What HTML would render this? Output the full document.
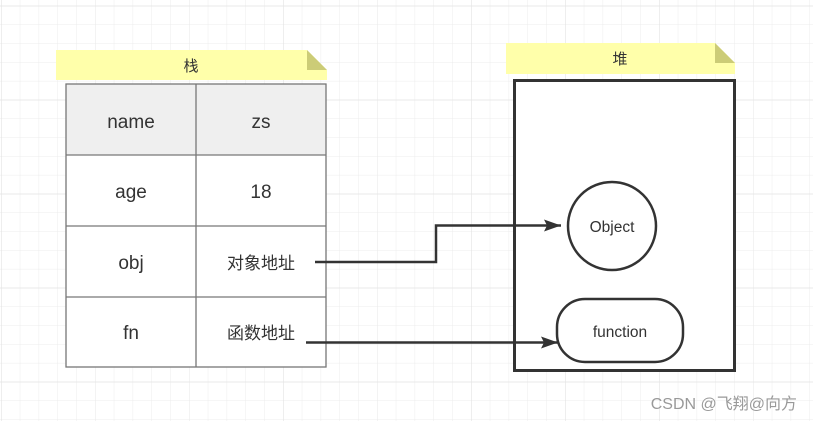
<!DOCTYPE html>
<html><head><meta charset="utf-8"><style>
html,body{margin:0;padding:0;background:#fff;}
svg{display:block;}
text{font-family:"Liberation Sans","Noto Sans CJK SC",sans-serif;fill:#333;}
</style></head><body>
<svg width="813" height="421" viewBox="0 0 813 421" xmlns="http://www.w3.org/2000/svg">
<defs>
<pattern id="g" x="1" y="5.7" width="18.8" height="18.8" patternUnits="userSpaceOnUse">
<path d="M0 0H18.8M0 0V18.8" stroke="#ececec" stroke-width="1" fill="none"/>
</pattern>
<pattern id="G" x="1" y="5.7" width="94" height="94" patternUnits="userSpaceOnUse">
<path d="M0 0H94M0 0V94" stroke="#e2e2e2" stroke-width="1.2" fill="none"/>
</pattern>
<marker id="a" markerWidth="18" markerHeight="12" refX="17" refY="6" orient="auto" markerUnits="userSpaceOnUse">
<path d="M0 0L17 6L0 12L3 6Z" fill="#333"/>
</marker>
</defs>
<rect width="813" height="421" fill="url(#g)"/>
<rect width="813" height="421" fill="url(#G)"/>

<path d="M56 50H307L327 70V80H56Z" fill="#ffffaa"/>
<path d="M307 50L327 70H307Z" fill="#cccc77"/>
<text x="191" y="71" font-size="15" text-anchor="middle">栈</text>

<rect x="66" y="84" width="260" height="71" fill="#efefef"/>
<rect x="66" y="155" width="260" height="212" fill="#fff"/>
<g stroke="#777" stroke-width="1.3" fill="none">
<rect x="66" y="84" width="260" height="283"/>
<line x1="196" y1="84" x2="196" y2="367"/>
<line x1="66" y1="155" x2="326" y2="155"/>
<line x1="66" y1="226" x2="326" y2="226"/>
<line x1="66" y1="297" x2="326" y2="297"/>
</g>
<g font-size="19" text-anchor="middle">
<text x="131" y="128">name</text><text x="261" y="128">zs</text>
<text x="131" y="198">age</text><text x="261" y="198">18</text>
<text x="131" y="269">obj</text><text x="261" y="269" font-size="17">对象地址</text>
<text x="131" y="339">fn</text><text x="261" y="339" font-size="17">函数地址</text>
</g>

<path d="M506 43H715L735 63V74H506Z" fill="#ffffaa"/>
<path d="M715 43L735 63H715Z" fill="#cccc77"/>
<text x="620" y="64" font-size="15" text-anchor="middle">堆</text>
<rect x="514.5" y="80.5" width="220" height="290" fill="#fff" stroke="#333" stroke-width="3"/>

<circle cx="612" cy="226" r="44" fill="#fff" stroke="#333" stroke-width="2.5"/>
<text x="612" y="232" font-size="15.5" text-anchor="middle">Object</text>
<rect x="557" y="299" width="126" height="63" rx="28" fill="#fff" stroke="#333" stroke-width="2.5"/>
<text x="620" y="337" font-size="15.5" text-anchor="middle">function</text>

<path d="M315 262H436V225.5H561" fill="none" stroke="#333" stroke-width="2.5" marker-end="url(#a)"/>
<path d="M306 342.5H558" fill="none" stroke="#333" stroke-width="2.5" marker-end="url(#a)"/>

<text x="797" y="409" font-size="16" text-anchor="end" style="fill:#999">CSDN @飞翔@向方</text>
</svg>
</body></html>
